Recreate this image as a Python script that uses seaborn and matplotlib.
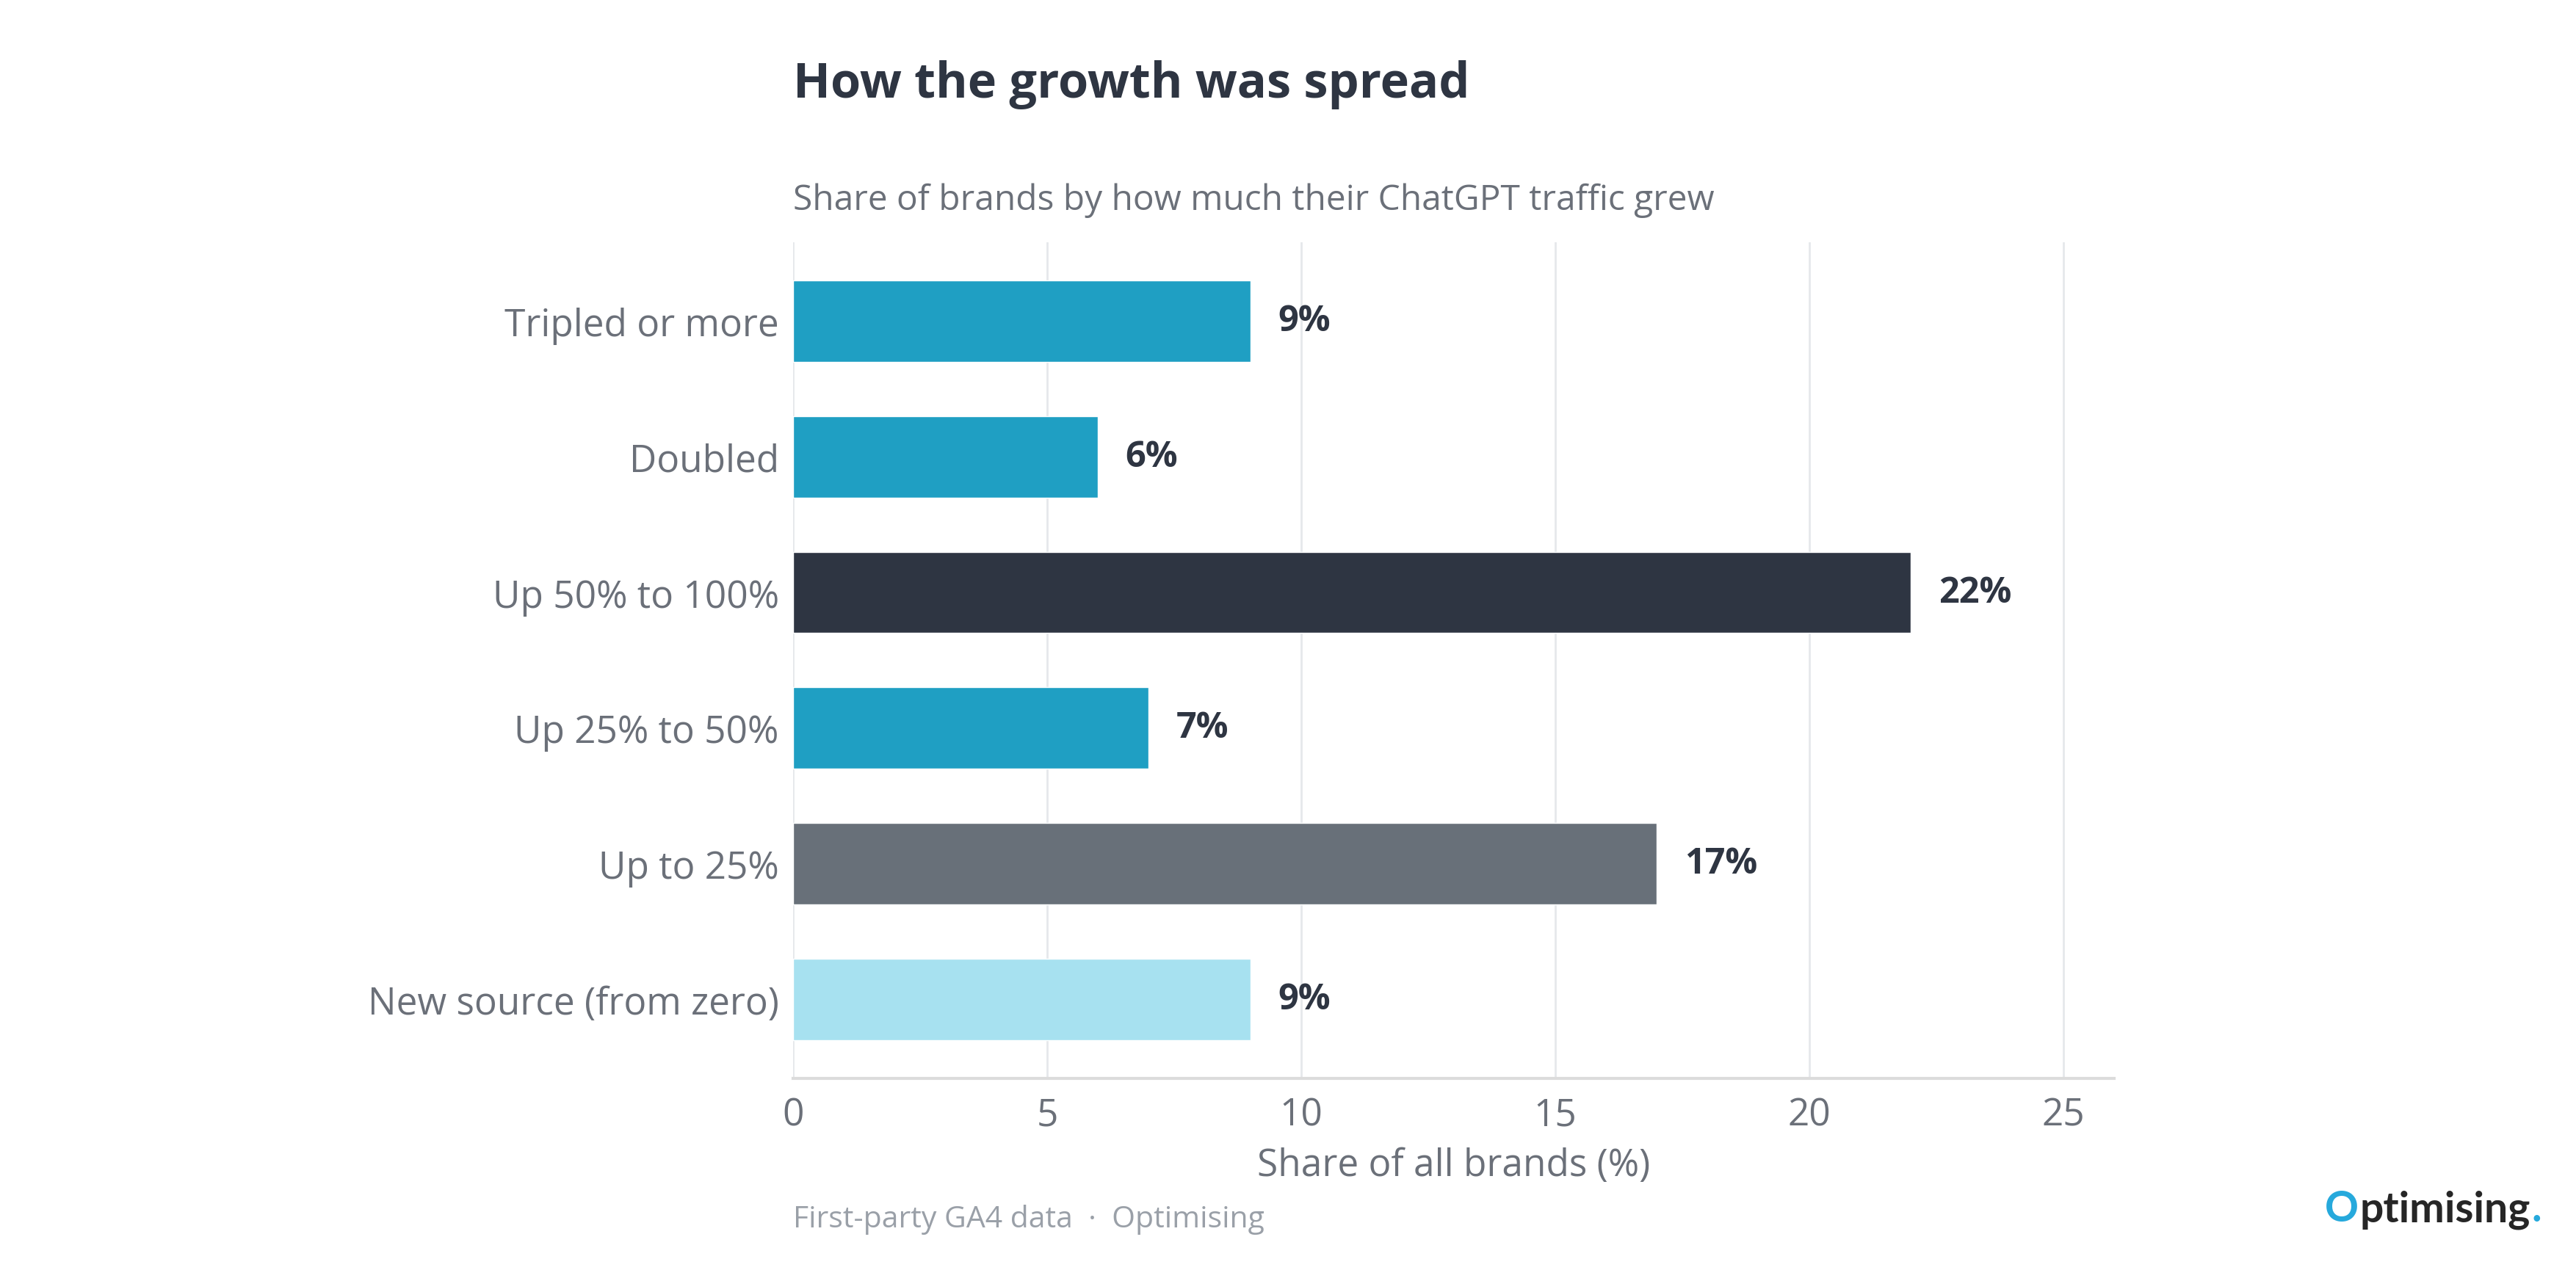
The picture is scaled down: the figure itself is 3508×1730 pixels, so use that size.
import matplotlib
matplotlib.use("Agg")
import matplotlib.pyplot as plt
import seaborn as sns
import pandas as pd

categories = ["Tripled or more", "Doubled", "Up 50% to 100%", "Up 25% to 50%",
              "Up to 25%", "New source (from zero)"]
shares = [9, 6, 22, 7, 17, 9]
x_ticks = [0, 5, 10, 15, 20, 25]

title = "How the growth was spread"
subtitle = "Share of brands by how much their ChatGPT traffic grew"
x_label = "Share of all brands (%)"
source = "First-party GA4 data  ·  Optimising"

bar_colors = ["#1f9fc3", "#1f9fc3", "#2e3542", "#1f9fc3", "#687079", "#a7e1f0"]
dark = "#2e3542"
gray = "#6b7079"

sns.set_theme(style="white")
plt.rcParams["font.family"] = ["Open Sans", "DejaVu Sans"]

df = pd.DataFrame({"category": categories, "share": shares})

fig = plt.figure(figsize=(35.08, 17.31), dpi=100)
ax = fig.add_axes([0.3079, 0.1508, 0.8207 - 0.3079, 0.8088 - 0.1508])

sns.barplot(data=df, x="share", y="category", hue="category",
            palette=bar_colors, legend=False, width=0.6, orient="h",
            saturation=1, ax=ax, zorder=3)

for i, v in enumerate(shares):
    ax.annotate(f"{v}%", xy=(v, i), xytext=(27, 0), textcoords="offset points",
                ha="left", va="center", fontsize=35, fontweight="bold", color=dark)

ax.set_xlim(0, 26)
ax.set_ylim(5.58, -0.58)
ax.set_xticks(x_ticks)
ax.set_xticklabels([str(t) for t in x_ticks])
ax.grid(axis="x", color="#e6e8eb", linewidth=2, zorder=0)
ax.grid(axis="y", visible=False)
for s in ["top", "right", "left"]:
    ax.spines[s].set_visible(False)
ax.spines["bottom"].set_color("#dcdcdc")
ax.spines["bottom"].set_linewidth(3)
ax.tick_params(axis="both", length=0, labelsize=37, colors=gray)
ax.tick_params(axis="y", pad=14)
ax.tick_params(axis="x", pad=18)
ax.set_ylabel("")
ax.set_xlabel(x_label, fontsize=37, color=gray, labelpad=12)

fig.text(0.3079, 0.933, title, fontsize=48, fontweight="bold", color=dark,
         ha="left", va="center")
fig.text(0.3079, 0.842, subtitle, fontsize=34.5, color=gray, ha="left", va="center")
fig.text(0.3079, 0.040, source, fontsize=29.5, color="#9aa0a8", ha="left", va="center")

# wordmark bottom right, pieces placed side by side
fig.canvas.draw()
renderer = fig.canvas.get_renderer()
W = fig.bbox.width
x = 0.9025
pieces = [("O", "#26a9dc"), ("ptimising", "#262626"), (".", "#26a9dc")]
for txt, col in pieces:
    t = fig.text(x, 0.048, txt, fontsize=41, fontweight="bold", color=col,
                 ha="left", va="center", family=["Lato", "DejaVu Sans"])
    bb = t.get_window_extent(renderer)
    x = bb.x1 / W + 0.0005

fig.savefig("out.png", dpi=100, facecolor="white")
